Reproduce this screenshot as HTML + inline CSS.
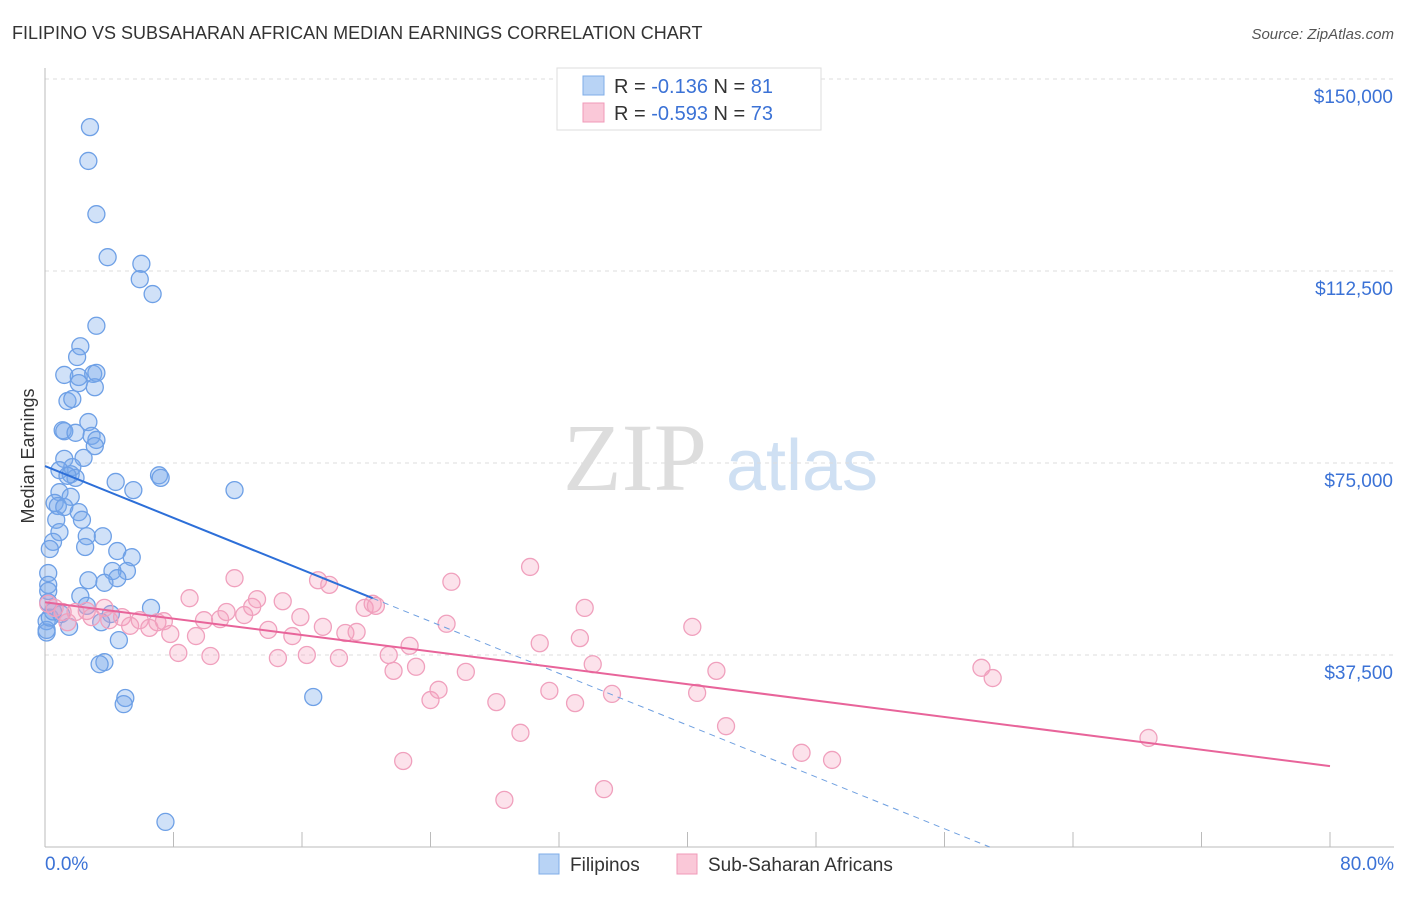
<!DOCTYPE html>
<html><head><meta charset="utf-8"><style>
body{margin:0;background:#fff;font-family:"Liberation Sans",sans-serif;}
svg text{font-family:"Liberation Sans",sans-serif;}
</style></head><body>
<svg id="c" width="1406" height="892">
<text x="12" y="39" font-size="18" fill="#333">FILIPINO VS SUBSAHARAN AFRICAN MEDIAN EARNINGS CORRELATION CHART</text>
<text x="1394" y="39" font-size="15" fill="#555" font-style="italic" text-anchor="end">Source: ZipAtlas.com</text>
<text x="34" y="456" font-size="18" fill="#333" text-anchor="middle" transform="rotate(-90 34 456)">Median Earnings</text>
<g>
<text x="635" y="490" font-size="96" fill="#ddd" font-family="Liberation Serif" text-anchor="middle" style="font-family:'Liberation Serif',serif">ZIP</text>
<text x="802" y="490" font-size="72" fill="#cfe0f3" text-anchor="middle">atlas</text>
</g>
<g id="grid"></g><g id="axes"></g><g id="pts"></g><g id="lines"></g>
<g>
<rect x="557" y="68" width="264" height="62" fill="#fff" stroke="#ddd"/>
<rect x="583" y="76" width="21" height="19" fill="#b8d3f5" stroke="#7faee8"/>
<rect x="583" y="103" width="21" height="19" fill="#fac8d8" stroke="#f09ab8"/>
<text x="614" y="93" font-size="20" fill="#333">R = <tspan fill="#3b72d6"> -0.136</tspan>   N = <tspan fill="#3b72d6"> 81</tspan></text>
<text x="614" y="120" font-size="20" fill="#333">R = <tspan fill="#3b72d6">-0.593</tspan>   N = <tspan fill="#3b72d6">73</tspan></text>
</g>
<g>
<rect x="539" y="854" width="20" height="20" fill="#b8d3f5" stroke="#7faee8"/>
<text x="570" y="871" font-size="19" fill="#333">Filipinos</text>
<rect x="677" y="854" width="20" height="20" fill="#fac8d8" stroke="#f09ab8"/>
<text x="708" y="871" font-size="19" fill="#333">Sub-Saharan Africans</text>
</g>
</svg>
<script>
const yTicks=[37500,75000,112500,150000];
const yTickLabels=["$37,500","$75,000","$112,500","$150,000"];
const xTickLabels=["0.0%","80.0%"];
const filX=[2.8,2.7,3.2,3.9,6.0,5.9,6.7,3.2,2.2,2.0,1.2,2.1,3.0,3.2,2.1,3.1,1.4,1.7,2.7,1.1,1.2,1.9,2.9,3.2,3.1,2.4,1.2,1.7,0.9,1.6,1.9,1.4,7.1,7.2,4.4,5.5,11.8,0.9,1.6,0.6,0.8,1.2,2.1,0.7,2.3,0.9,3.6,2.6,0.5,0.3,2.5,4.5,5.4,5.1,4.2,0.2,4.5,2.7,3.7,0.2,0.2,2.2,0.2,6.6,2.6,4.1,0.1,3.5,4.6,0.1,3.7,3.4,5.0,4.9,16.7,7.5,0.1,0.3,1.0,0.5,1.5];
const filY=[140600,134000,123600,115200,113900,110900,108000,101800,97800,95700,92200,91800,92400,92600,90600,89800,87100,87500,83000,81400,81200,80900,80300,79500,78300,76000,75800,74200,73600,72800,72100,72500,72600,72100,71300,69700,69700,69300,68400,67200,66600,66400,65400,63900,63900,61500,60700,60700,59600,58200,58600,57800,56600,53900,53900,53500,52500,52100,51600,51200,50000,49000,47800,46700,47100,45500,44100,43900,40400,41900,36100,35700,29100,27900,29300,4900,42400,44800,45500,46000,43000];
const subX=[0.2,0.6,1.1,1.4,1.9,2.6,2.9,3.7,4.0,4.8,5.3,5.9,6.5,7.0,7.4,7.8,8.3,9.0,9.4,9.9,10.3,10.9,11.3,11.8,12.4,12.9,13.2,13.9,14.5,14.8,15.4,15.9,16.3,17.0,17.3,17.7,18.3,18.7,19.4,19.9,20.4,20.6,21.4,21.7,22.7,23.1,24.0,24.5,25.0,25.3,26.2,28.1,28.6,29.6,30.2,30.8,31.4,33.0,33.3,33.6,34.1,34.8,35.3,22.3,40.3,40.6,41.8,42.4,47.1,49.0,58.3,59.0,68.7];
const subY=[47500,46700,45900,43900,45900,46100,44900,46700,44300,44900,43200,44300,42800,43900,44100,41600,37900,48600,41200,44300,37300,44500,45900,52500,45300,46900,48400,42400,36900,48000,41200,44900,37500,52100,43000,51200,36900,41800,42000,46700,47500,47100,37500,34400,39300,35200,28700,30700,43600,51800,34200,28300,9200,22300,54700,39800,30500,28100,40800,46700,35700,11300,29900,16800,43000,30100,34400,23600,18400,17000,35000,33000,21300];
const filFit=[74400,-1265]; // intercept, slope per %
const subFit=[47800,-400];
const NS="http://www.w3.org/2000/svg";
const X=v=>45+v/80*1285, Y=v=>847-v/37500*192;
function mk(t,a,p){const e=document.createElementNS(NS,t);for(const k in a)e.setAttribute(k,a[k]);document.getElementById(p).appendChild(e);return e;}
yTicks.forEach((t,i)=>{
 let l=mk('line',{x1:45,x2:1394,y1:Y(t),y2:Y(t),stroke:'#ddd','stroke-dasharray':'4,4'},'grid');
 
 
 let tx=mk('text',{x:1393,y:Y(t)+24,'font-size':19,fill:'#3b72d6','text-anchor':'end'},'axes');tx.textContent=yTickLabels[i];
 
 
});
let ax=mk('line',{x1:45,x2:45,y1:68,y2:847,stroke:'#bbb'},'axes');


let bx=mk('line',{x1:45,x2:1394,y1:847,y2:847,stroke:'#bbb'},'axes');


for(let i=1;i<=10;i++){let t=mk('line',{x1:X(i*8),x2:X(i*8),y1:832,y2:847,stroke:'#bbb'},'axes');
 
 }
[[0,'start',45],[80,'end',1394]].forEach((d,i)=>{let t=mk('text',{x:d[2],y:870,'font-size':19,fill:'#3b72d6','text-anchor':d[1]},'axes');t.textContent=xTickLabels[i];
 
 });
filX.forEach((v,i)=>{let c=mk('circle',{cx:X(v),cy:Y(filY[i]),r:8.5,fill:'rgba(120,170,235,0.35)',stroke:'#6ea0e6','stroke-width':1.3},'pts');
 
 });
subX.forEach((v,i)=>{let c=mk('circle',{cx:X(v),cy:Y(subY[i]),r:8.5,fill:'rgba(245,160,190,0.3)',stroke:'#f0a0bd','stroke-width':1.3},'pts');
 
 });
const f=(p,x)=>p[0]+p[1]*x;
let l1=mk('line',{x1:X(0),y1:Y(f(filFit,0)),x2:X(20.4),y2:Y(f(filFit,20.4)),stroke:'#2d6fd8','stroke-width':2},'lines');


const xe=-filFit[0]/filFit[1];
let l2=mk('line',{x1:X(20.4),y1:Y(f(filFit,20.4)),x2:X(xe),y2:Y(0),stroke:'#6e9fe0','stroke-width':1,'stroke-dasharray':'6,5'},'lines');


let l3=mk('line',{x1:X(0),y1:Y(f(subFit,0)),x2:X(80),y2:Y(f(subFit,80)),stroke:'#e8649a','stroke-width':2},'lines');


</script>
</body></html>
